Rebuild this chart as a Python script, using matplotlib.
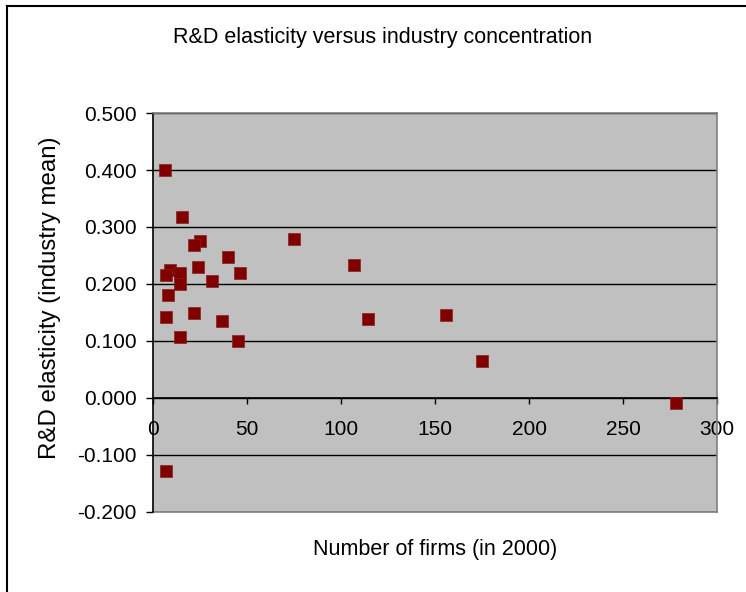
import matplotlib
matplotlib.use("Agg")
import matplotlib.pyplot as plt
from matplotlib.lines import Line2D

plt.rcParams['font.family'] = ['Liberation Sans', 'DejaVu Sans']

num_firms = [6, 15.4, 25.0, 21.8, 39.9, 9.0, 6.9, 14.4, 23.9, 46.1, 14.4, 31.4,
             8.0, 6.9, 21.8, 36.7, 14.4, 45.2, 6.9, 75.0, 106.9, 114.4, 155.9,
             175.0, 278.0]
elasticity = [0.400, 0.317, 0.276, 0.268, 0.247, 0.224, 0.216, 0.220, 0.230,
              0.219, 0.199, 0.205, 0.180, 0.142, 0.149, 0.135, 0.107, 0.100,
              -0.128, 0.279, 0.233, 0.138, 0.145, 0.064, -0.009]

x_ticks = [0, 50, 100, 150, 200, 250, 300]
y_ticks = [-0.2, -0.1, 0.0, 0.1, 0.2, 0.3, 0.4, 0.5]

W, H = 746, 592
fig = plt.figure(figsize=(W / 100, H / 100), dpi=100)

# outer chart frame
fig.add_artist(Line2D([7 / W, 1.0], [1 - 6 / H, 1 - 6 / H], color='black', lw=1.5))
fig.add_artist(Line2D([7 / W, 7 / W], [1 - 6 / H, 0.0], color='black', lw=1.5))

left, right, top, bottom = 153.3, 717.3, 113.2, 511.5
ax = fig.add_axes([left / W, 1 - bottom / H, (right - left) / W, (bottom - top) / H])
ax.set_facecolor('#c0c0c0')

for yv in y_ticks:
    ax.axhline(yv, color='black', lw=1.0, zorder=1)

ax.scatter(num_firms, elasticity, marker='s', s=80, color='#800000',
           edgecolors='#8a2020', linewidths=0.5, zorder=3, clip_on=False)

ax.set_xlim(0, 300)
ax.set_ylim(-0.2, 0.5)
ax.set_xticks(x_ticks)
ax.set_yticks(y_ticks)
ax.set_yticklabels([f"{v:.3f}" for v in y_ticks])
ax.set_xticklabels([str(v) for v in x_ticks])

for s in ['top', 'right']:
    ax.spines[s].set_color('#808080')
    ax.spines[s].set_linewidth(1.2)
ax.spines['left'].set_color('black')
ax.spines['left'].set_linewidth(1.2)
ax.spines['bottom'].set_position(('data', 0))
ax.spines['bottom'].set_color('black')
ax.spines['bottom'].set_linewidth(1.2)
ax.add_line(Line2D([0, 1], [0, 0], transform=ax.transAxes, color='#808080', lw=1.2, clip_on=False))

ax.tick_params(axis='y', direction='out', length=5, width=1, pad=7, labelsize=15)
ax.tick_params(axis='x', direction='out', length=4, width=1, pad=12, labelsize=15)

fig.text(383 / W, 1 - 38 / H, 'R&D elasticity versus industry concentration',
         ha='center', va='center', fontsize=15.5)
fig.text(435 / W, 1 - 550 / H, 'Number of firms (in 2000)',
         ha='center', va='center', fontsize=15.5)
fig.text(50 / W, 1 - 298 / H, 'R&D elasticity (industry mean)',
         ha='center', va='center', rotation=90, fontsize=17.3)

fig.savefig('out.png', dpi=100)
